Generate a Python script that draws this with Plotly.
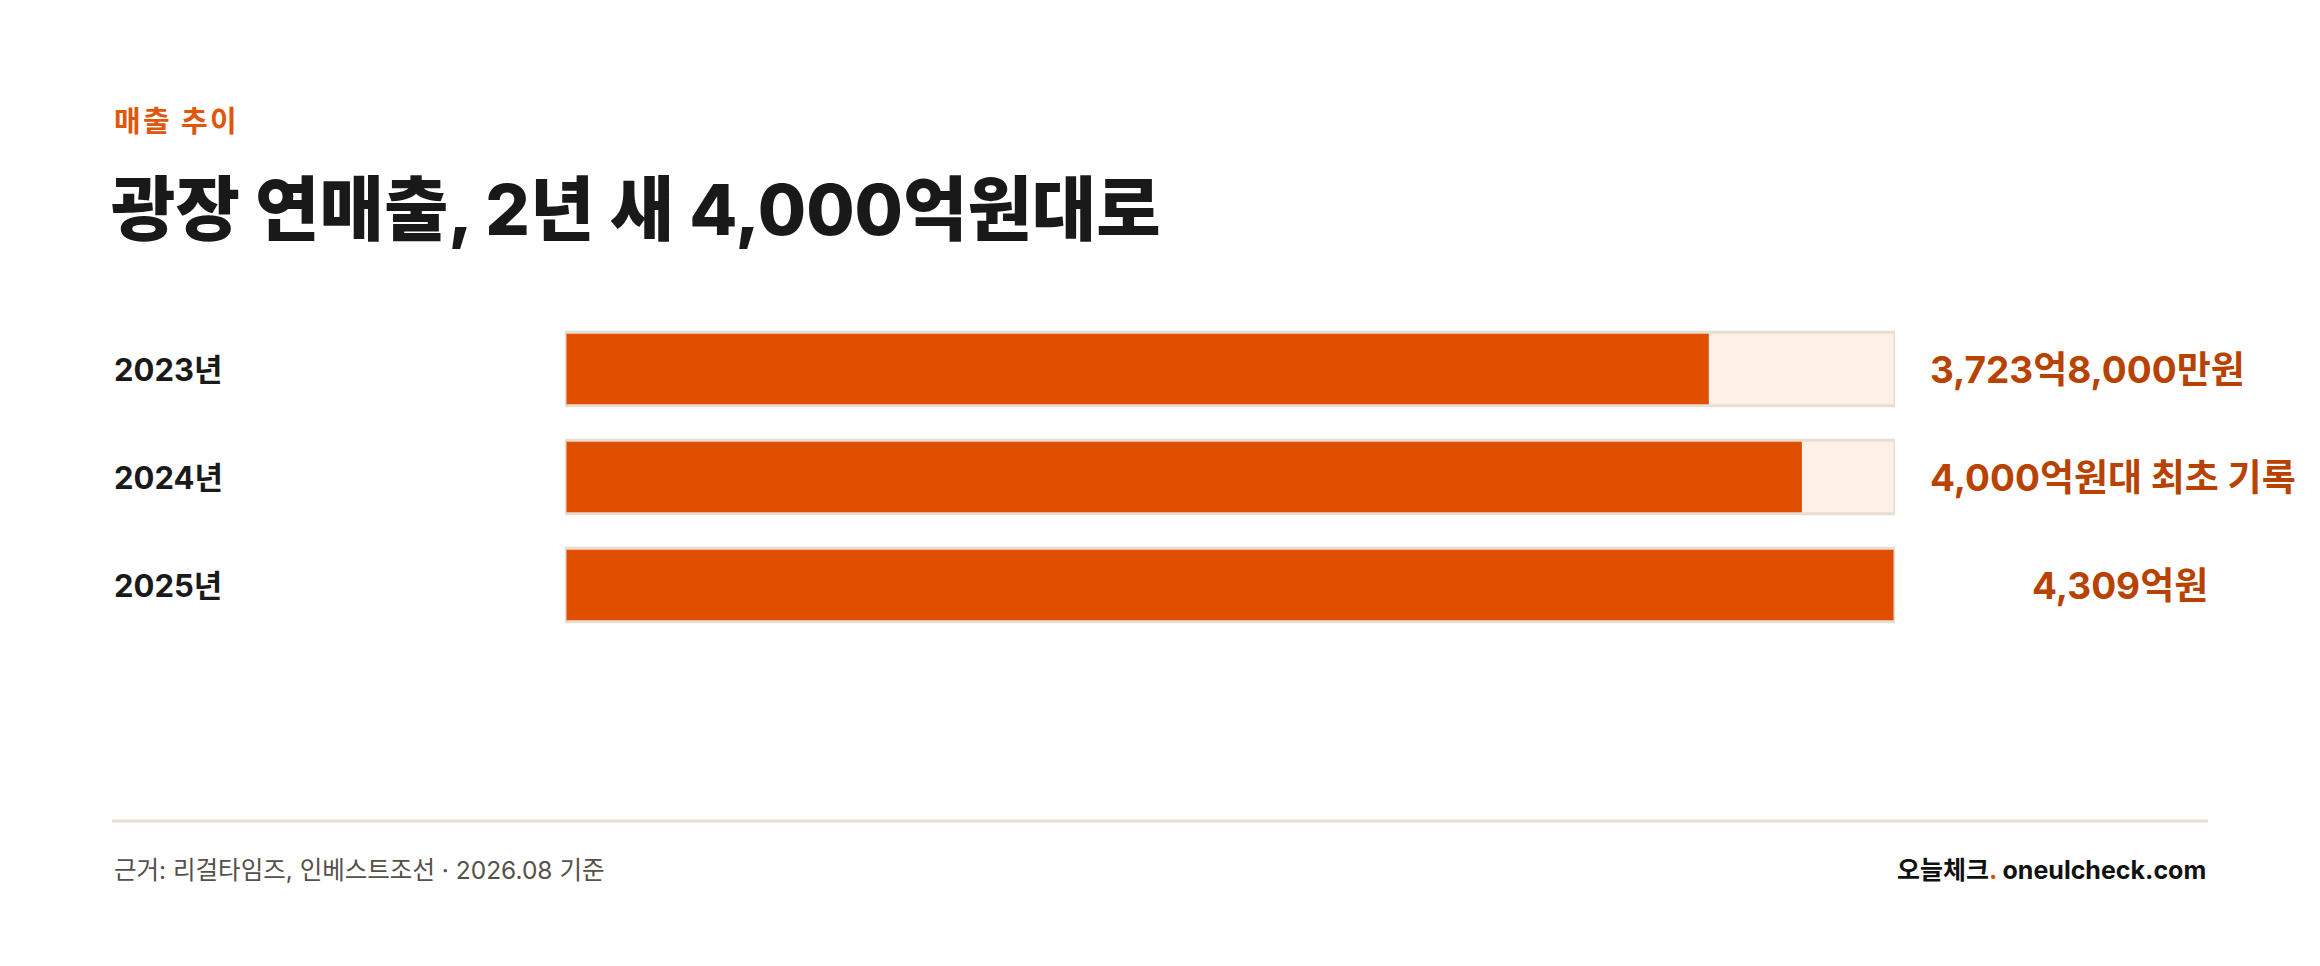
"""Bar chart: annual revenue of 광장, 2023-2025."""
import plotly.graph_objects as go

# the page body keeps its default 8px margin, so the figure is 8px smaller
# on each side and every reference pixel position is shifted by that
PAGE_PAD = 8
W, H = 2320 - 2 * PAGE_PAD, 966 - 2 * PAGE_PAD

years = ["2023년", "2024년", "2025년"]
revenue = [3723.8, 4000, 4309]  # 억원
value_labels = ["3,723억8,000만원", "4,000억원대 최초 기록", "4,309억원"]

kicker = "매출 추이"
title = "광장 연매출, 2년 새 4,000억원대로"
source = "근거: 리걸타임즈, 인베스트조선 · 2026.08 기준"
brand = "오늘체크<span style='color:#E04E00'>.</span> oneulcheck.com"

FONT = "Inter, 'Noto Sans CJK KR', sans-serif"
ORANGE = "#E04E00"
TRACK = "#FDF1E7"
BORDER = "#E7DDD3"


def px(x):
    return (x - PAGE_PAD) / W


def py(y):
    return 1 - (y - PAGE_PAD) / H


# bars are drawn as a whole-number share of the largest year
share = [round(v / max(revenue) * 100) for v in revenue]
full = [100] * len(years)

fig = go.Figure()
fig.add_trace(go.Bar(
    y=years, x=full, orientation="h", width=0.68,
    marker=dict(color=TRACK, line=dict(width=0)), hoverinfo="skip",
))
fig.add_trace(go.Bar(
    y=years, x=share, orientation="h", width=0.68,
    marker=dict(color=ORANGE, line=dict(width=0)),
    customdata=value_labels, hovertemplate="%{y}: %{customdata}<extra></extra>",
))
fig.add_trace(go.Bar(
    y=years, x=full, orientation="h", width=0.68,
    marker=dict(color="rgba(0,0,0,0)", line=dict(width=3, color=BORDER)),
    hoverinfo="skip",
))

annotations = [
    dict(text="\u200a".join(kicker), x=px(112), y=py(121),
         font=dict(size=29, color="#E0560A", weight=700)),
    dict(text=title, x=px(109), y=py(210), font=dict(size=70, color="#191919", weight=800)),
    dict(text=source, x=px(112), y=py(870), font=dict(size=24.5, color="#555049")),
]
for a in annotations:
    a.update(xref="paper", yref="paper", xanchor="left", yanchor="middle", showarrow=False)

annotations.append(dict(
    text=brand, x=px(2208), y=py(870), xref="paper", yref="paper",
    xanchor="right", yanchor="middle", showarrow=False,
    font=dict(size=25, color="#111111", weight=700),
))

for i, yr in enumerate(years):
    annotations.append(dict(
        text=yr, x=px(112), y=yr, xref="paper", yref="y",
        xanchor="left", yanchor="middle", showarrow=False,
        font=dict(size=31, color="#1A1A1A", weight=700),
    ))
    last = i == len(years) - 1
    annotations.append(dict(
        text=value_labels[i], x=px(2120) if last else px(1928), y=yr,
        xref="paper", yref="y", xanchor="center" if last else "left",
        yanchor="middle", showarrow=False,
        font=dict(size=37, color="#B84300", weight=700),
    ))

fig.update_layout(
    width=W, height=H,
    margin=dict(l=0, r=0, t=0, b=0),
    paper_bgcolor="white", plot_bgcolor="white",
    barmode="overlay", showlegend=False,
    font=dict(family=FONT),
    xaxis=dict(domain=[px(565), px(1895)], range=[0, 100],
               visible=False, fixedrange=True),
    yaxis=dict(domain=[py(639), py(315)], range=[2.5, -0.5],
               visible=False, fixedrange=True),
    annotations=annotations,
    shapes=[dict(type="line", xref="paper", yref="paper",
                 x0=px(112), x1=px(2208), y0=py(821), y1=py(821),
                 line=dict(color=BORDER, width=3))],
)

fig.write_html("out.html")
